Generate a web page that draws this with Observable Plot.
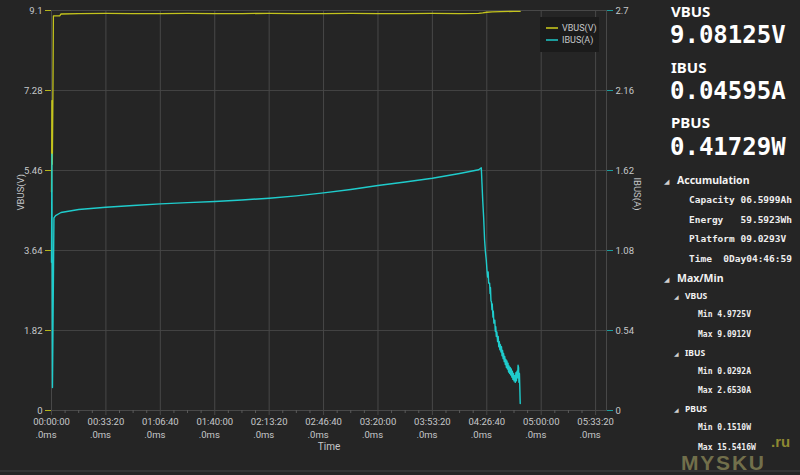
<!DOCTYPE html>
<html><head><meta charset="utf-8">
<script src="https://cdn.jsdelivr.net/npm/d3@7"></script>
<script src="https://cdn.jsdelivr.net/npm/@observablehq/plot@0.6"></script>
<style>
html,body{margin:0;padding:0;background:#252525;}
#wrap{position:relative;width:800px;height:475px;overflow:hidden;background:#252525;}
#chart svg{display:block;}
#overlay{position:absolute;left:0;top:0;pointer-events:none;}
</style></head>
<body><div id="wrap"><div id="chart"></div></div>
<script>
// ---- data ----
const timeTicks = [0, 2000, 4000, 6000, 8000, 10000, 12000, 14000, 16000, 18000, 20000];
const timeLabels = ["00:00:00","00:33:20","01:06:40","01:40:00","02:13:20","02:46:40","03:20:00","03:53:20","04:26:40","05:00:00","05:33:20"];
const msLabel = ".0ms";
const vTicks = [0, 1.82, 3.64, 5.46, 7.28, 9.1];
const vLabels = ["0","1.82","3.64","5.46","7.28","9.1"];
const iTicks = [0, 0.54, 1.08, 1.62, 2.16, 2.7];
const iLabels = ["0","0.54","1.08","1.62","2.16","2.7"];
const seriesNames = ["VBUS(V)", "IBUS(A)"];
const axisTitles = {y: "VBUS(V)", y2: "IBUS(A)", x: "Time"};

// VBUS (seconds, volts)
const vbusT = [0, 15, 30, 50, 70, 300, 350, 1000, 2000, 3000, 4000, 5000, 6000, 7000, 8000, 9000, 10000, 11000, 12000, 13000, 14000, 15000, 15700, 15850, 16000, 16200, 16500, 17000, 17229];
const vbusV = [4.97, 7.05, 5.6, 7.0, 8.98, 8.98, 9.02, 9.03, 9.035, 9.03, 9.03, 9.035, 9.03, 9.03, 9.035, 9.03, 9.03, 9.035, 9.03, 9.03, 9.035, 9.03, 9.035, 9.045, 9.06, 9.07, 9.075, 9.08, 9.081];

// IBUS (seconds, amps)
const ibusT = [0, 15, 35, 90, 150, 349, 1000, 2000, 3000, 4000, 5000, 6000, 7000, 8000, 9000, 10000, 11000, 12000, 13000, 14000, 15000, 15700, 15798,
  15823, 15850, 15884, 15920, 15950, 15982, 16005, 16030, 16050, 16070, 16104, 16120, 16135, 16153, 16170, 16190, 16200, 16226, 16240, 16260, 16280, 16295,
  16312, 16330, 16350, 16370, 16397, 16420, 16440, 16460, 16480, 16500, 16520, 16540, 16560, 16580, 16600, 16617, 16640, 16660, 16680, 16700, 16720,
  16740, 16760, 16780, 16800, 16820, 16840, 16862, 16880, 16900, 16920, 16940, 16960, 16984, 17000, 17020, 17046, 17070, 17090, 17110, 17130, 17150,
  17168, 17180, 17200, 17229];
const ibusA = [1.0, 1.73, 0.155, 1.30, 1.316, 1.3365, 1.357, 1.372, 1.384, 1.395, 1.403, 1.411, 1.421, 1.433, 1.449, 1.469, 1.492, 1.519, 1.542, 1.568, 1.600, 1.625, 1.638,
  1.532, 1.42, 1.305, 1.1475, 1.07, 1.0125, 0.95, 0.900, 0.935, 0.86, 0.86, 0.79, 0.83, 0.74, 0.735, 0.68, 0.72, 0.63, 0.67, 0.59, 0.60, 0.61,
  0.535, 0.565, 0.50, 0.53, 0.465, 0.50, 0.43, 0.465, 0.41, 0.445, 0.395, 0.43, 0.37, 0.405, 0.35, 0.385, 0.33, 0.365, 0.31, 0.345, 0.29,
  0.335, 0.28, 0.32, 0.26, 0.30, 0.25, 0.29, 0.24, 0.28, 0.225, 0.265, 0.21, 0.25, 0.20, 0.235, 0.19, 0.255, 0.20, 0.265, 0.22, 0.305,
  0.29, 0.19, 0.25, 0.047];

// right panel texts
const readouts = [["VBUS", "9.08125V"], ["IBUS", "0.04595A"], ["PBUS", "0.41729W"]];
const accTitle = "Accumulation";
const accumulation = ["Capacity 06.5999Ah", "Energy   59.5923Wh", "Platform 09.0293V", "Time  0Day04:46:59"];
const maxMinTitle = "Max/Min";
const maxMin = [["VBUS", "Min 4.9725V", "Max 9.0912V"], ["IBUS", "Min 0.0292A", "Max 2.6530A"], ["PBUS", "Min 0.1510W", "Max 15.5416W"]];
const watermark = ["MYSKU", ".ru"];

// ---- build ----
const K = 9.1 / 2.7;
const vbus = vbusT.map((t, i) => ({t, v: vbusV[i]}));
const ibus = ibusT.map((t, i) => ({t, a: ibusA[i]}));
const minorTicks = d3.range(0, 20400, 500).filter(d => d % 2000 !== 0);
const iMap = new Map(iTicks.map((d, i) => [d * K, iLabels[i]]));

const YEL = "#c4c41c", TEAL = "#1fcccc", TXT = "#c6c8ca", GRID = "#424242";
const font = "Roboto, 'Noto Sans', sans-serif";

const chart = Plot.plot({
  width: 800, height: 475,
  marginLeft: 51, marginRight: 194, marginTop: 10, marginBottom: 65,
  style: {background: "transparent", color: TXT, fontFamily: font, fontSize: "9.5px"},
  x: {domain: [0, 20400]},
  y: {domain: [0, 9.1]},
  marks: [
    Plot.gridY(vTicks, {stroke: GRID, strokeOpacity: 1}),
    Plot.gridX(timeTicks, {stroke: "#484848", strokeOpacity: 1, insetBottom: -5}),
    Plot.frame({stroke: "#484848"}),
    Plot.axisX(minorTicks, {tickSize: 3, stroke: "#5a5a5a", tickFormat: () => "", label: null}),
    Plot.text(timeTicks, {x: d => d, text: (d, i) => timeLabels[i], frameAnchor: "bottom", dy: 14, fill: TXT}),
    Plot.text(timeTicks, {x: d => d, text: () => msLabel, frameAnchor: "bottom", dy: 27, dx: -16, textAnchor: "start", fill: TXT}),
    Plot.axisY(vTicks, {anchor: "left", tickSize: 6, tickPadding: 3, stroke: "#b4b41a", fill: TXT, tickFormat: d => vLabels[vTicks.indexOf(d)], label: null}),
    Plot.axisY(iTicks.map(d => d * K), {anchor: "right", tickSize: 6, tickPadding: 3, stroke: "#1a9e9e", fill: TXT, tickFormat: d => iMap.get(d), label: null}),
    Plot.text([axisTitles.y], {text: d => d, frameAnchor: "left", dx: -31, rotate: -90, fill: TXT}),
    Plot.text([axisTitles.y2], {text: d => d, frameAnchor: "right", dx: 31, rotate: 90, fill: TXT}),
    Plot.text([axisTitles.x], {text: d => d, frameAnchor: "bottom", dy: 39, fill: TXT, fontSize: 10}),
    Plot.line(vbus, {x: "t", y: "v", stroke: YEL, strokeWidth: 1.3}),
    Plot.line(ibus, {x: "t", y: d => d.a * K, stroke: TEAL, strokeWidth: 1.4})
  ]
});
document.getElementById("chart").appendChild(chart);

// ---- overlay: legend + right panel ----
const svg = d3.select("#wrap").append("svg").attr("id", "overlay").attr("width", 800).attr("height", 475);

// legend
const lg = svg.append("g").attr("transform", "translate(540,17)");
lg.append("rect").attr("width", 59).attr("height", 35).attr("fill", "#1b1b1b");
const swatch = ["#a0a01c", "#1c9c9c"];
seriesNames.forEach((s, i) => {
  const y = 11 + i * 12;
  lg.append("line").attr("x1", 6).attr("x2", 18).attr("y1", y).attr("y2", y).attr("stroke", swatch[i]).attr("stroke-width", 2);
  lg.append("text").attr("x", 22).attr("y", y).attr("dy", "0.35em").attr("fill", TXT)
    .style("font", `9px ${font}`).text(s);
});

const sans = "'Noto Sans', 'Open Sans', sans-serif";
const mono = "'DejaVu Sans Mono', 'Liberation Mono', monospace";
function t(x, y, str, f, fill = "#ffffff") {
  return svg.append("text").attr("x", x).attr("y", y).attr("fill", fill)
    .attr("xml:space", "preserve").style("white-space", "pre").style("font", f).text(str);
}
readouts.forEach(([lab, val], i) => {
  t(671, 17 + i * 55.5, lab, `bold 15px ${sans}`);
  t(670, 43 + i * 56, val, `bold 24px ${mono}`);
});
const tri = "\u25E2";
t(664, 184, tri, `7px ${sans}`, "#cfcfcf");
t(677, 184, accTitle, `bold 10.5px ${sans}`, "#f2f2f2");
accumulation.forEach((s, i) => t(689, 203 + i * 19.6, s, `bold 9.5px ${mono}`, "#eeeeee"));
t(664, 282, tri, `7px ${sans}`, "#cfcfcf");
t(677, 282, maxMinTitle, `bold 10.5px ${sans}`, "#f2f2f2");
maxMin.forEach(([h, mn, mx], g) => {
  const y0 = 299.3 + g * 56.5;
  t(674, y0, tri, `6px ${sans}`, "#cfcfcf");
  t(685, y0, h, `bold 8.5px ${sans}`, "#f2f2f2");
  t(698, y0 + 18, mn, `bold 8px ${mono}`, "#eeeeee");
  t(698, y0 + 37.3, mx, `bold 8px ${mono}`, "#eeeeee");
});
svg.append("line").attr("x1", 0).attr("x2", 800).attr("y1", 471).attr("y2", 471).attr("stroke", "#3a3a3a").attr("stroke-width", 1.5);
t(681, 469.5, watermark[0], `bold 21px 'Liberation Sans', sans-serif`, "#7f7c52").attr("opacity", 0.85).style("letter-spacing", "1.8px");
t(771, 447, watermark[1], `bold 15px 'Liberation Sans', sans-serif`, "#9a9434").attr("opacity", 0.9);
</script>
</body></html>
